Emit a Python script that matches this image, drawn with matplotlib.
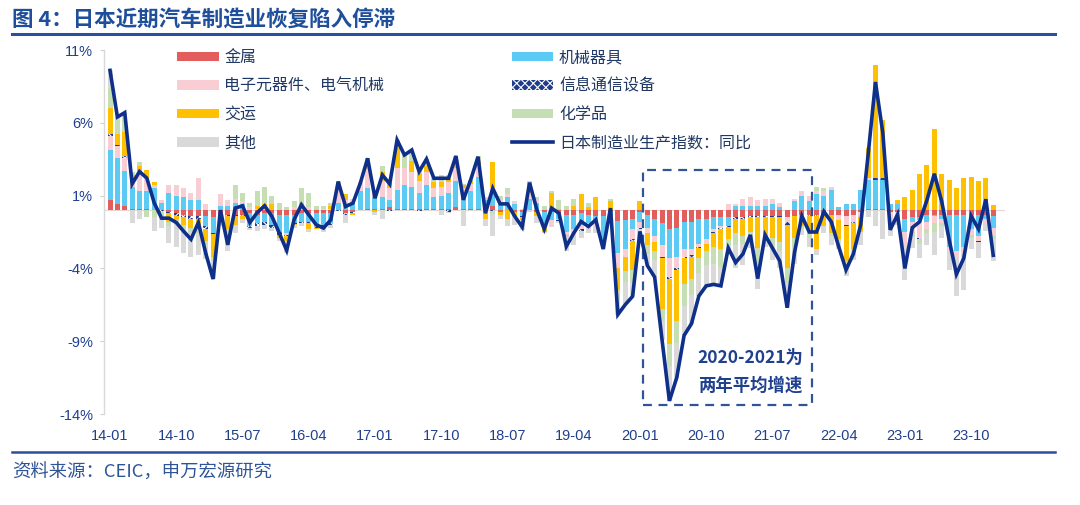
import numpy as np
import matplotlib
matplotlib.use('Agg')
import matplotlib.pyplot as plt
from matplotlib.patches import Patch, Rectangle
from matplotlib.lines import Line2D

plt.rcParams['font.family'] = ['Noto Sans CJK SC', 'DejaVu Sans']
plt.rcParams['hatch.linewidth'] = 0.8

# month index 0 = 2014-01 ... 120 = 2024-01
tick_labels = ['14-01', '14-10', '15-07', '16-04', '17-01', '17-10', '18-07',
               '19-04', '20-01', '20-10', '21-07', '22-04', '23-01', '23-10']

metal = [0.7, 0.4, 0.3, 0.1, 0.1, 0.05, 0.0, 0.0, -0.1, -0.2,
         -0.3, -0.4, -0.4, -0.4, -0.45, -0.3, -0.3, -0.3, -0.3, -0.2,
         -0.3, -0.2, -0.2, -0.3, -0.3, -0.3, -0.2, -0.2, -0.2, -0.2,
         -0.2, 0.0, -0.2, -0.1, 0.0, 0.1, 0.1, 0.1, 0.2, 0.1,
         0.1, 0.1, 0.1, 0.1, 0.1, 0.1, 0.1, 0.2, 0.1, 0.1,
         0.1, 0.1, 0.3, -0.1, 0.0, -0.1, -0.1, 0.0, -0.1, -0.1,
         -0.1, -0.2, -0.3, -0.3, -0.2, -0.3, -0.4, -0.4, -0.1, -0.75,
         -0.7, -0.6, -0.1, -0.3, -0.6, -0.9, -1.3, -1.2, -0.8, -0.8,
         -0.6, -0.6, -0.5, -0.5, -0.5, -0.5, -0.5, -0.4, -0.4, -0.4,
         -0.4, -0.4, -0.5, -0.4, -0.3, -0.3, -0.3, -0.3, -0.3, -0.3,
         -0.4, -0.3, -0.1, 0.1, 0.1, 0.1, -0.1, -0.1, -0.6, -0.5,
         -0.5, -0.3, -0.3, -0.3, -0.3, -0.3, -0.3, -0.3, -0.3, -0.3,
         -0.4]
machinery = [3.4, 3.2, 2.4, 1.5, 1.2, 1.3, 1.5, 0.5, 1.2, 1.0,
             0.9, 0.7, 0.7, -0.7, -1.1, 0.3, 0.3, 0.5, 0.4, -0.9,
             -0.6, -0.6, -0.8, -1.2, -1.3, -0.6, -0.6, -0.6, -0.9, -0.8,
             -0.7, 0.5, 0.4, 0.5, 1.3, 1.4, 0.8, 0.8, 0.5, 1.3,
             1.6, 1.5, 1.1, 1.6, 0.8, 0.9, 1.1, 1.8, 1.0, 1.2,
             2.2, 0.6, 0.8, 0.5, 0.9, 0.4, -0.3, 0.8, 0.5, -0.8,
             -0.6, -0.4, -1.2, -1.0, -0.8, -0.6, -0.5, -1.8, -0.3, -2.2,
             -2.0, -0.7, -0.7, -0.9, -1.2, -1.5, -2.0, -2.0, -1.9, -1.9,
             -1.7, -1.4, -0.8, -0.6, -0.6, 0.3, 0.3, 0.3, 0.3, 0.3,
             0.4, 0.2, 0.0, 0.6, 1.0, 0.6, 1.1, 1.0, 1.4, 0.2,
             0.4, 0.4, 1.4, 2.0, 2.0, 2.0, 0.4, 0.4, -0.9, -0.3,
             -0.2, -0.5, -0.1, -0.3, -2.2, -2.5, -2.2, -1.0, -1.5, -0.3,
             -0.8]
electronics = [1.0, 0.8, 0.9, 0.5, 1.4, 0.9, 0.2, 0.2, 0.5, 0.7,
               0.6, 0.5, 1.5, 0.4, 0.0, 0.8, 0.4, 0.3, 0.2, 0.2,
               0.1, 0.1, 0.0, 0.0, -0.1, 0.2, 0.2, 0.2, 0.0, 0.1,
               0.1, 0.9, 0.3, 0.3, 0.6, 1.3, 0.2, 1.1, 0.8, 1.5,
               1.2, 1.0, 0.8, 0.9, 0.6, 0.6, 0.7, 0.9, 0.4, 0.5,
               0.8, 0.2, 0.5, 0.2, 0.2, 0.2, 0.1, 0.4, 0.2, -0.3,
               -0.3, -0.1, -0.2, -0.2, -0.3, -0.4, -0.3, -0.3, -0.2, -1.0,
               -0.5, -0.7, -0.4, -0.4, -0.4, -0.8, -1.3, -0.8, -0.5, -0.4,
               -0.2, -0.3, -0.2, -0.1, 0.4, 0.1, 0.5, 0.6, 0.4, 0.5,
               0.4, 0.3, -0.3, 0.2, 0.3, 0.4, 0.2, 0.3, 0.2, -0.4,
               -0.6, -0.5, -0.4, 0.1, 0.0, 0.0, -0.5, -0.5, -0.9, -0.7,
               -1.2, -0.5, -0.5, -0.3, -0.4, -0.5, -0.5, -0.4, -0.3, -0.3,
               -0.6]
ict = [0.1, 0.1, 0.1, 0.0, 0.0, 0.0, 0.0, -0.1, -0.1, -0.2,
       -0.2, -0.2, -0.2, -0.2, -0.1, -0.1, -0.1, -0.1, -0.1, -0.1,
       -0.2, -0.2, -0.2, -0.2, -0.05, -0.05, -0.1, -0.1, -0.1, -0.2,
       -0.1, -0.05, -0.1, -0.1, 0.0, 0.0, 0.0, 0.0, -0.05, 0.0,
       0.0, 0.0, -0.05, 0.0, 0.0, 0.0, -0.1, 0.0, 0.0, 0.0,
       0.0, 0.0, -0.05, 0.0, 0.0, 0.0, -0.05, 0.0, 0.0, 0.0,
       0.0, -0.05, 0.0, 0.0, -0.1, 0.0, -0.05, -0.05, -0.05, -0.05,
       -0.05, -0.1, -0.1, 0.0, 0.0, -0.1, -0.1, -0.1, -0.1, -0.1,
       -0.1, 0.0, -0.1, -0.1, -0.05, -0.1, -0.1, -0.1, -0.1, -0.1,
       -0.1, -0.1, -0.2, 0.0, 0.0, -0.1, -0.1, 0.0, 0.0, 0.0,
       -0.1, -0.1, 0.0, 0.0, 0.1, 0.1, 0.05, 0.0, 0.0, 0.0,
       -0.1, 0.0, 0.0, 0.0, 0.0, 0.0, 0.0, 0.0, -0.1, 0.0,
       0.0]
transport = [1.8, 0.7, 1.7, 0.3, 0.3, 0.5, 0.2, 0.0, -0.6, -0.3,
             -0.5, -0.6, -0.7, -0.8, -1.6, -0.3, -0.9, -0.6, -0.2, -0.05,
             0.2, 0.3, 0.4, -0.2, -0.4, -0.1, 0.3, -0.4, -0.1, 0.0,
             0.2, 0.4, 0.4, -0.1, 0.0, 0.5, -0.1, 0.6, 0.4, 1.4,
             0.0, 0.8, 0.5, 0.4, 0.4, 0.3, 0.3, 0.5, 0.2, 0.2,
             0.3, -0.6, 1.7, -0.2, -0.6, -0.3, -0.2, 0.4, -0.3, -0.3,
             1.2, 0.1, -0.1, 0.3, 1.1, 0.2, 0.9, 0.0, 0.6, -1.5,
             -0.9, -2.0, 0.6, -0.8, -0.6, -3.5, -4.5, -3.5, -1.8, -1.5,
             -0.7, -0.5, -0.9, -1.4, -0.8, -1.0, -1.2, -1.0, -2.1, -1.2,
             -1.4, -1.7, -3.0, -1.5, -0.8, -1.0, -2.3, -0.8, -1.3, -1.3,
             -2.4, -1.8, -1.0, 2.1, 7.8, 4.0, 0.0, 0.3, 0.9, 1.4,
             2.5, 3.1, 5.6, 2.5, 2.1, 1.5, 2.2, 2.3, 2.0, 2.2,
             0.35]
chemicals = [1.4, 1.0, 0.8, 0.2, 0.3, -0.5, -0.5, -0.3, -0.3, -0.2,
             -0.3, -0.3, -0.3, -0.3, -0.2, -0.1, -0.2, 0.9, 0.6, 0.3,
             1.0, 1.2, 0.6, 0.5, 0.2, 0.4, 1.0, 1.0, 0.3, 0.2,
             0.2, 0.2, -0.05, 0.0, 0.0, 0.3, 0.0, 0.4, 0.0, 0.5,
             0.9, 0.6, 0.2, 0.5, 0.3, 0.5, 0.2, 0.3, 0.1, 0.1,
             0.3, 0.0, -0.2, 0.3, 0.4, 0.0, 0.0, 0.4, 0.2, 0.3,
             0.1, 0.6, 0.3, 0.5, 0.0, 0.3, 0.0, 0.0, 0.2, -0.7,
             -0.8, -0.8, 0.0, -0.6, -0.6, -0.8, -1.5, -1.5, -1.5, -1.1,
             -1.0, -1.0, -1.2, -1.2, -0.5, -0.8, -0.5, -0.5, -1.0, -0.3,
             -0.5, -0.6, -1.0, -0.6, -0.2, -0.5, 0.3, 0.2, -0.2, -0.1,
             -0.2, 0.0, 0.0, 0.0, 0.0, 0.0, 0.0, 0.0, 0.0, -0.3,
             -0.3, -0.3, -0.6, -0.2, 0.0, 0.0, 0.0, -0.2, 0.0, 0.0,
             -0.2]
others = [1.2, 0.2, 0.5, -0.9, -0.6, 0.0, -0.9, -0.85, -1.15, -1.65,
          -1.65, -1.7, -1.5, -0.95, -1.3, -0.3, -1.3, -0.56, -0.3, -0.1,
          -0.35, -0.3, -0.2, -0.2, -0.8, -0.2, -0.2, -0.2, 0.0, -0.3,
          -0.2, 0.0, -0.5, 0.0, 0.0, 0.0, -0.2, -0.6, 0.0, 0.0,
          0.0, 0.0, 0.0, 0.0, 0.0, -0.3, -0.1, 0.0, -1.1, 0.0,
          0.0, -0.5, -1.5, -0.3, -0.5, -0.6, -0.7, -0.1, -0.5, -0.1,
          -0.15, -0.15, -1.0, -0.9, -0.5, -0.3, -0.3, -0.15, 0.0, -1.0,
          -1.5, -1.0, -0.8, -0.8, -1.2, -1.3, -2.4, -2.4, -2.0, -2.0,
          -1.6, -1.4, -1.4, -1.3, -0.55, -1.6, -1.5, -0.6, -1.8, -0.5,
          -1.0, -1.2, -1.7, -1.2, -0.4, -0.6, -0.4, -0.5, -0.6, -0.6,
          -0.8, -0.7, -0.9, -0.5, -1.1, -2.0, -1.2, -0.4, -2.4, -0.8,
          -1.0, -0.8, -1.6, -0.8, -1.2, -2.6, -2.5, -0.8, -1.1, -0.55,
          -1.5]
ip_yoy = [9.6, 6.4, 6.7, 1.8, 2.65, 2.2, 0.5, -0.55, -0.55, -0.85,
          -1.45, -2.0, -0.85, -2.95, -4.73, 0.0, -2.38, 0.14, 0.3, -0.85,
          -0.16, 0.3, -0.43, -1.58, -2.76, -0.66, 0.37, -0.32, -1.0, -1.23,
          -0.66, 1.96, 0.25, 0.48, 1.85, 3.56, 0.82, 2.42, 1.8, 4.82,
          3.79, 4.13, 2.65, 3.51, 2.19, 2.19, 2.19, 3.72, 0.71, 2.08,
          3.67, -0.21, 1.5, 0.43, 0.43, -0.43, -1.16, 1.89, 0.02, -1.3,
          0.14, -0.21, -2.49, -1.58, -0.78, -1.12, -0.66, -2.67, 0.14, -7.17,
          -6.49, -5.92, -1.46, -3.8, -4.6, -8.9, -13.1, -11.5, -8.6, -7.8,
          -5.9, -5.2, -5.1, -5.2, -2.6, -3.6, -3.0, -1.7, -4.7, -1.7,
          -2.6, -3.5, -6.7, -2.9, -0.4, -1.5, -1.5, -0.1, -0.8, -2.5,
          -4.1, -3.0, -1.0, 3.8, 8.8, 5.3, -1.35, -0.3, -4.0, -1.2,
          -0.8, 0.7, 2.5, 0.6, -2.0, -4.4, -3.3, -0.4, -1.3, 0.75,
          -3.1]

names = ['金属', '机械器具', '电子元器件、电气机械', '信息通信设备', '交运', '化学品', '其他']
colors = ['#E35D5D', '#5CCBF4', '#F9CDD4', '#1F3C8C', '#FFC000', '#C6DEB3', '#D9D9D9']
series = [metal, machinery, electronics, ict, transport, chemicals, others]

navy = '#1F3F8F'
dark = '#0E2F8A'

fig = plt.figure(figsize=(10.8, 5.05), dpi=100)
ax = fig.add_axes([104/1080, 91/505, 901/1080, 364/505])

n = len(ip_yoy)
x = np.arange(n)
pos_base = np.zeros(n)
neg_base = np.zeros(n)
handles = {}
for name, col, vals in zip(names, colors, series):
    v = np.array(vals, dtype=float)
    bottom = np.where(v >= 0, pos_base, neg_base)
    if name == '信息通信设备':
        ax.bar(x, v, bottom=bottom, width=0.68, facecolor=col, edgecolor='white',
               hatch='xxxx', linewidth=0, zorder=2)
        handles[name] = Patch(facecolor=col, edgecolor='white', hatch='xxxx', linewidth=0)
    else:
        ax.bar(x, v, bottom=bottom, width=0.68, color=col, linewidth=0, zorder=2)
        handles[name] = Patch(facecolor=col, linewidth=0)
    pos_base += np.clip(v, 0, None)
    neg_base += np.clip(v, None, 0)

line_name = '日本制造业生产指数：同比'
ax.plot(x, ip_yoy, color=dark, lw=2.6, zorder=5, solid_joinstyle='miter')
handles[line_name] = Line2D([], [], color=dark, lw=2.6)

ax.axhline(0, color='#E6D6D6', lw=0.8, zorder=1)

# dashed box around 2020-2021
ax.add_patch(Rectangle((72.4, -13.35), 23.0, 16.1, fill=False, ec='#2F5597',
                       lw=1.6, ls=(0, (4, 3)), zorder=4))
ax.text(87.0, -11.1, '2020-2021为\n两年平均增速', ha='center', va='center',
        fontsize=12.5, fontweight='bold', color=navy, linespacing=1.65, zorder=6)

ax.set_xlim(-0.82, 121.6)
ax.set_ylim(-14, 11)
ax.set_yticks([11, 6, 1, -4, -9, -14])
ax.set_yticklabels(['11%', '6%', '1%', '-4%', '-9%', '-14%'])
ax.set_xticks(np.arange(0, 118, 9))
ax.set_xticklabels(tick_labels)
for lab in ax.get_xticklabels() + ax.get_yticklabels():
    lab.set_family(['Liberation Sans', 'DejaVu Sans'])
ax.tick_params(axis='x', length=0, pad=11, labelsize=10.5, labelcolor=navy)
ax.tick_params(axis='y', length=3, width=0.8, color='#D0D0D0', pad=5,
               labelsize=10.5, labelcolor=navy)
for s in ['top', 'right', 'bottom']:
    ax.spines[s].set_visible(False)
ax.spines['left'].set_color('#D9D9D9')
ax.spines['left'].set_linewidth(1.0)

order = ['金属', '电子元器件、电气机械', '交运', '其他',
         '机械器具', '信息通信设备', '化学品', line_name]
leg = fig.legend([handles[k] for k in order], order, ncol=2, frameon=False,
                 loc='upper left', bbox_to_anchor=(177/1080, 1 - 49/505),
                 borderaxespad=0, borderpad=0, fontsize=11.5,
                 handlelength=2.6, handleheight=0.55, handletextpad=0.35,
                 labelspacing=0.72, columnspacing=8.0)
for t in leg.get_texts():
    t.set_color('#203864')

# header / footer
fig.text(12/1080, 1 - 20/505, '图 4：日本近期汽车制造业恢复陷入停滞', fontsize=15.5,
         fontweight='bold', color='#1F4E9A', va='center', ha='left')
fig.add_artist(Line2D([12/1080, 1055/1080], [1 - 34/505, 1 - 34/505],
                      color='#2B4F9C', lw=2.2))
fig.add_artist(Line2D([12/1080, 1055/1080], [1 - 452/505, 1 - 452/505],
                      color='#2B4F9C', lw=1.8))
fig.text(12/1080, 1 - 473/505, '资料来源：CEIC，申万宏源研究', fontsize=13.2,
         color='#2E5496', va='center', ha='left')

fig.savefig('out.png', dpi=100)
